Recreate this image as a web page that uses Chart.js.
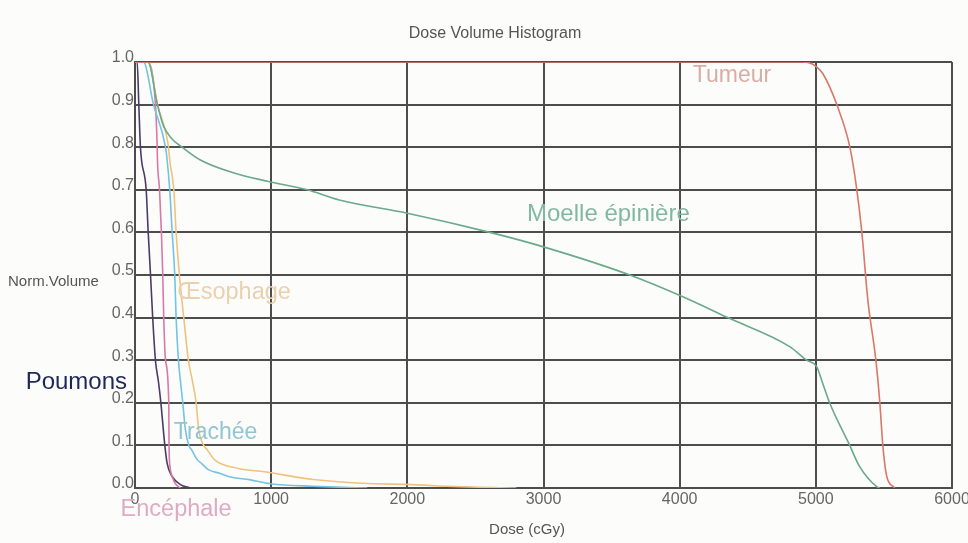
<!DOCTYPE html>
<html>
<head>
<meta charset="utf-8">
<title>Dose Volume Histogram</title>
<script src="https://cdn.jsdelivr.net/npm/chart.js@4.4.1/dist/chart.umd.min.js"></script>
<style>
    body { margin: 0; background: #fcfdfa; }
    #dvh { display: block; }
</style>
</head>
<body>
<canvas id="dvh" width="968" height="543"></canvas>
<script>
// Dose (cGy) / volume normalise
const tumeurDose = [0, 4900, 4960, 5000, 5051, 5154, 5250, 5301, 5338, 5382, 5441, 5470, 5492, 5521, 5580];
const tumeurVol  = [1, 1, 0.997, 0.99, 0.973, 0.9, 0.8, 0.7, 0.6, 0.441, 0.3, 0.2, 0.1, 0.027, 0];

const moelleDose = [0, 95, 165, 209, 270, 346, 480, 722, 972, 1265, 1500, 2000, 2607, 3000, 3634, 4023, 4353, 4808, 4933, 5006, 5050, 5101, 5249, 5322, 5447, 5470];
const moelleVol  = [1, 1, 0.9, 0.85, 0.82, 0.8, 0.77, 0.74, 0.72, 0.7, 0.676, 0.645, 0.6, 0.566, 0.5, 0.449, 0.4, 0.332, 0.3, 0.285, 0.246, 0.2, 0.1, 0.05, 0.003, 0];

const oesophageDose = [0, 99, 165, 246, 255, 285, 302, 326, 358, 392, 420, 449, 468, 505, 530, 585, 760, 950, 1310, 1670, 2040, 2290, 2800];
const oesophageVol  = [1, 1, 0.9, 0.8, 0.77, 0.7, 0.6, 0.5, 0.4, 0.3, 0.254, 0.2, 0.137, 0.1, 0.09, 0.066, 0.046, 0.038, 0.02, 0.011, 0.008, 0.004, 0];

const tracheeDose = [0, 62, 136, 224, 236, 255, 273, 292, 302, 319, 334, 351, 370, 396, 415, 458, 488, 539, 627, 686, 847, 994, 1310, 1705];
const tracheeVol  = [1, 1, 0.9, 0.8, 0.77, 0.7, 0.6, 0.5, 0.4, 0.3, 0.25, 0.2, 0.137, 0.1, 0.09, 0.066, 0.058, 0.043, 0.034, 0.027, 0.019, 0.01, 0.004, 0];

const encephaleDose = [0, 90, 150, 163, 165, 180, 194, 204, 211, 224, 248, 250, 257, 273, 297, 334];
const encephaleVol  = [1, 1, 0.9, 0.8, 0.77, 0.7, 0.6, 0.5, 0.4, 0.3, 0.2, 0.1, 0.05, 0.027, 0.01, 0];

const poumonsDose = [0, 16, 28, 40, 82, 97, 114, 130, 150, 172, 190, 219, 236, 273, 334, 407];
const poumonsVol  = [1, 1, 0.9, 0.8, 0.7, 0.6, 0.5, 0.4, 0.3, 0.25, 0.2, 0.1, 0.058, 0.027, 0.008, 0];

const xTicks = [0, 1000, 2000, 3000, 4000, 5000, 6000];
const yTicks = [0, 0.1, 0.2, 0.3, 0.4, 0.5, 0.6, 0.7, 0.8, 0.9, 1.0];

const toPoints = (dose, vol) => dose.map((d, i) => ({ x: d, y: vol[i] }));

// nom, donnees, couleur de la courbe, couleur et ancre (dose, volume) du libelle
const organs = [
    { name: 'Tumeur', dose: tumeurDose, vol: tumeurVol, line: '#d8786a', text: '#d9aca4', at: [4097, 0.967], size: 23 },
    { name: 'Moelle épinière', dose: moelleDose, vol: moelleVol, line: '#6aa98a', text: '#82b99e', at: [2879, 0.643], size: 24 },
    { name: 'Œsophage', dose: oesophageDose, vol: oesophageVol, line: '#f0c27e', text: '#ebd0ae', at: [310, 0.458], size: 23.5 },
    { name: 'Trachée', dose: tracheeDose, vol: tracheeVol, line: '#74c3e2', text: '#92c5d2', at: [285, 0.129], size: 23 },
    { name: 'Encéphale', dose: encephaleDose, vol: encephaleVol, line: '#d77aa6', text: '#e0aac4', at: [-106, -0.05], size: 23.5 },
    { name: 'Poumons', dose: poumonsDose, vol: poumonsVol, line: '#4b3b68', text: '#1d275a', at: [-803, 0.249], size: 24 }
];

const GRID = '#4d4d4d';
const FONT = "'Liberation Sans', Arial, sans-serif";

const textPlugin = {
    id: 'dvhText',
    afterDraw(chart) {
        const { ctx, scales } = chart;
        ctx.save();
        ctx.fillStyle = '#555';
        ctx.textBaseline = 'middle';
        ctx.textAlign = 'center';
        ctx.font = '16px ' + FONT;
        ctx.fillText('Dose Volume Histogram', 495, 34);
        ctx.font = '15px ' + FONT;
        ctx.fillText('Dose (cGy)', 527, 530);
        ctx.textAlign = 'left';
        ctx.fillText('Norm.Volume', 8, 282);

        organs.forEach(o => {
            ctx.font = o.size + 'px ' + FONT;
            ctx.fillStyle = o.text;
            ctx.fillText(o.name, scales.x.getPixelForValue(o.at[0]), scales.y.getPixelForValue(o.at[1]));
        });
        ctx.restore();
    }
};

new Chart(document.getElementById('dvh'), {
    type: 'scatter',
    data: {
        datasets: organs.map(o => ({
            label: o.name,
            data: toPoints(o.dose, o.vol),
            showLine: true,
            borderColor: o.line,
            borderWidth: 1.6,
            pointRadius: 0,
            cubicInterpolationMode: 'monotone',
            fill: false
        }))
    },
    options: {
        responsive: false,
        animation: false,
        layout: { padding: { top: 62, right: 16, bottom: 0, left: 0 } },
        plugins: {
            legend: { display: false },
            tooltip: { enabled: false },
            title: { display: false }
        },
        scales: {
            x: {
                type: 'linear',
                min: xTicks[0],
                max: xTicks[xTicks.length - 1],
                afterBuildTicks: (scale) => { scale.ticks = xTicks.map(v => ({ value: v })); },
                afterFit: (scale) => { scale.height = 55; scale.paddingLeft = 0; scale.paddingRight = 0; },
                grid: { color: GRID, lineWidth: 2, drawTicks: false },
                border: { color: GRID, width: 2 },
                ticks: {
                    color: '#666',
                    padding: 2,
                    font: { size: 16, family: FONT },
                    callback: (v) => String(v)
                }
            },
            y: {
                min: yTicks[0],
                max: yTicks[yTicks.length - 1],
                afterBuildTicks: (scale) => { scale.ticks = yTicks.map(v => ({ value: v })); },
                afterFit: (scale) => { scale.width = 135; scale.paddingTop = 0; scale.paddingBottom = 0; },
                grid: { color: GRID, lineWidth: 2, drawTicks: false },
                border: { color: GRID, width: 2 },
                ticks: {
                    color: '#666',
                    padding: 1,
                    labelOffset: -4,
                    font: { size: 16, family: FONT },
                    callback: (v) => Number(v).toFixed(1)
                }
            }
        }
    },
    plugins: [textPlugin]
});
</script>
</body>
</html>
